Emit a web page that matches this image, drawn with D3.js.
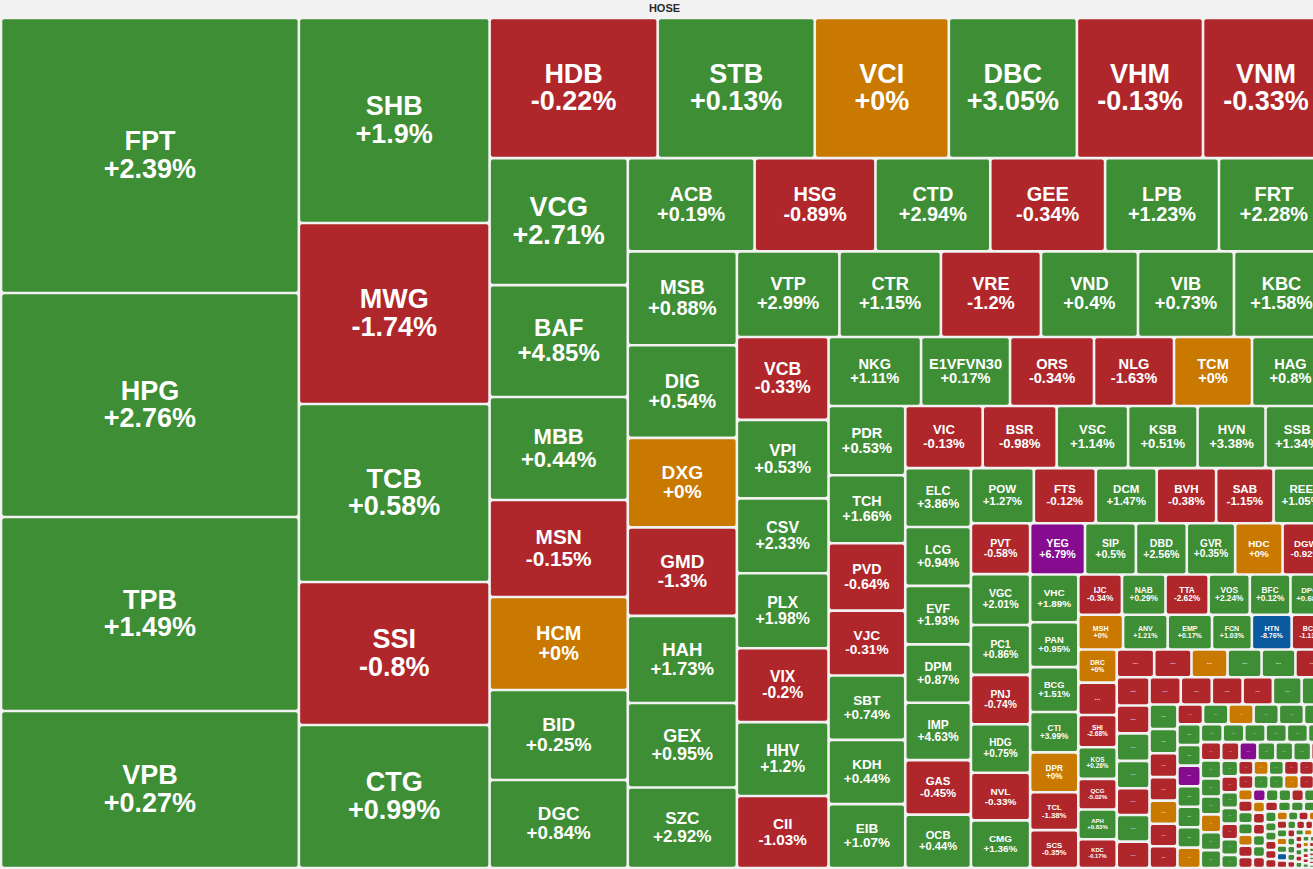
<!DOCTYPE html>
<html>
<head>
<meta charset="utf-8">
<script src="https://cdn.jsdelivr.net/npm/d3@7"></script>
<style>
html,body{margin:0;padding:0;background:#f2f2f2;overflow:hidden}
svg{display:block}
</style>
</head>
<body>
<svg id="chart" width="1313" height="869"></svg>
<script>
// ---- data (trading value ~ cell area, % change) ----
const title = "HOSE";
const tickers = ["FPT","HPG","TPB","VPB","SHB","MWG","TCB","SSI","CTG","HDB","STB","VCI","DBC","VHM","VNM","VCG","BAF","MBB","MSN","HCM","BID","DGC","ACB","HSG","CTD","GEE","LPB","FRT","MSB","DIG","DXG","GMD","HAH","GEX","SZC","VTP","CTR","VRE","VND","VIB","KBC","VCB","VPI","CSV","PLX","VIX","HHV","CII","NKG","E1VFVN30","ORS","NLG","TCM","HAG","PDR","TCH","PVD","VJC","SBT","KDH","EIB","VIC","BSR","VSC","KSB","HVN","SSB","ELC","LCG","EVF","DPM","IMP","GAS","OCB","POW","FTS","DCM","BVH","SAB","REE","PVT","VGC","PC1","PNJ","HDG","NVL","CMG","YEG","SIP","DBD","GVR","HDC","DGW","VHC","PAN","BCG","CTI","DPR","TCL","SCS","IJC","NAB","TTA","VOS","BFC","DPG","MSH","ANV","EMP","FCN","HTN","BCE","DRC","SHI","KOS","QCG","APH","KDC"];
const values = [81812,66640,57715,46708,39053,34481,33909,27250,27230,23520,21980,18760,17920,17650,17630,17526,15456,14214,13386,12834,12420,12144,11811,11253,10695,10690,10602,10250,10240,10083,9756,9647,9483,9211,8775,8764,8678,8550,8294,8208,8123,7595,7183,6863,6860,6771,6765,6588,6383,6141,5796,5520,5382,5313,5310,5202,5164,4973,4930,4920,4896,4805,4588,4433,4309,4216,3937,3865,3860,3832,3830,3766,3570,3504,3465,3410,3355,3273,3163,3053,3009,3005,2950,2920,2862,2820,2815,2805,2601,2600,2474,2423,2372,2304,2160,2158,1944,1920,1824,1822,1760,1758,1740,1660,1640,1555,1550,1545,1535,1380,1378,1294,1273,1235,1216,1178,1140,1102];
const changes = [2.39,2.76,1.49,0.27,1.9,-1.74,0.58,-0.8,0.99,-0.22,0.13,0,3.05,-0.13,-0.33,2.71,4.85,0.44,-0.15,0,0.25,0.84,0.19,-0.89,2.94,-0.34,1.23,2.28,0.88,0.54,0,-1.3,1.73,0.95,2.92,2.99,1.15,-1.2,0.4,0.73,1.58,-0.33,0.53,2.33,1.98,-0.2,1.2,-1.03,1.11,0.17,-0.34,-1.63,0,0.8,0.53,1.66,-0.64,-0.31,0.74,0.44,1.07,-0.13,-0.98,1.14,0.51,3.38,1.34,3.86,0.94,1.93,0.87,4.63,-0.45,0.44,1.27,-0.12,1.47,-0.38,-1.15,1.05,-0.58,2.01,0.86,-0.74,0.75,-0.33,1.36,6.79,0.5,2.56,0.35,0,-0.92,1.89,0.95,1.51,3.99,0,-1.38,-0.35,-0.34,0.29,-2.62,2.24,0.12,0.68,0,1.21,0.17,1.03,-8.76,-1.13,0,-2.68,0.26,-5.02,0.83,-0.17];
// small cells whose labels are hidden ("...")
const tinyValues = [1240,1040,1035,1000,945,940,932,926,912,900,895,880,870,865,850,845,840,823,783,745,680,675,665,655,645,625,605,505,500,498,496,495,494,484,482,480,479,478,477,476,390,385,380,378,376,375,372,370,368,366,365,365,364,335,333,331,330,330,330,268,267,266,266,265,265,222,221,220,219,218,217,216,215,214,213,212,211,210,168,167,166,165,164,163,162,158,157,156,155,154,153,138,137,136,136,135,134,130,129,128,127,126,125,108,107,106,105,104,103,95,94,93,92,91,90,82,81,80,79,78,77,70,69,68,67,66,65,58,57,56,55,54,53,48,47,46,45,44,43,40,39,38,37,36,35,32,31,30,29,28,27,26,25,24,23,22,21,20,19,18,17,16,15,14,13,12,11,10,9,8,8,7,7,6,6,5,5,5,4,4,4,3,3,3,3,2,2,2,2,2,1,1,1,1,1,1];
const tinyStatus = ("r"+"rroggr"+"rrggrgr"+"rrrrgg"+"ggrrorr"+"rgoggg"+"ggpgggo"+"gggggg"+"rgggogg"+"rpgggr"+"grggrg"+"grogrrg"+"rggorg"+"orggorr"+"pggrgg"+"orrggr"+"rggggg"+"ggrrro"+"grogrg"+"ogbrgr"+"rrrrgg"+"grgorg"+"rrgrgg"+"ggrogr"+"rgrgrg"+"grogrg"+"rgrgrg"+"grogrg"+"rgrgorgrgrgrgrgrgrorgrgrgrg").split("");

// ---- styling ----
const COLORS = {g:"#3e8e35", r:"#b0272b", o:"#c97800", p:"#850c8e", b:"#0a5aa0"};
const W = 1328, H = 850, OX = 1, OY = 18, PAD = 1.3;
const COL_RATIO = 1.2, ROW_RATIO = 0.875;
const FONT = "Arial, 'Liberation Sans', Helvetica, sans-serif";

function statusOf(c){ if (c >= 6.5) return "p"; if (c <= -6.5) return "b"; if (c > 0) return "g"; if (c < 0) return "r"; return "o"; }
function fmt(c){ return (c < 0 ? "" : "+") + c + "%"; }

// squarified tiling with orientation-dependent target ratio
function tile(parent, x0, y0, x1, y1) {
  const nodes = parent.children, n = nodes.length;
  let i0 = 0, i1 = 0, value = parent.value;
  while (i0 < n) {
    const dx = x1 - x0, dy = y1 - y0;
    const dice = dx < dy;
    const ratio = dice ? ROW_RATIO : COL_RATIO;
    let sumValue;
    do sumValue = nodes[i1++].value; while (!sumValue && i1 < n);
    let minValue = sumValue, maxValue = sumValue;
    const alpha = Math.max(dy / dx, dx / dy) / (value * ratio);
    let beta = sumValue * sumValue * alpha;
    let minRatio = Math.max(maxValue / beta, beta / minValue);
    for (; i1 < n; ++i1) {
      const nv = nodes[i1].value;
      sumValue += nv;
      if (nv < minValue) minValue = nv;
      if (nv > maxValue) maxValue = nv;
      beta = sumValue * sumValue * alpha;
      const newRatio = Math.max(maxValue / beta, beta / minValue);
      if (newRatio > minRatio) { sumValue -= nv; break; }
      minRatio = newRatio;
    }
    const row = {value: sumValue, children: nodes.slice(i0, i1)};
    if (dice) d3.treemapDice(row, x0, y0, x1, dy ? y0 += dy * sumValue / value : y1);
    else d3.treemapSlice(row, x0, y0, dx ? x0 += dx * sumValue / value : x1, y1);
    value -= sumValue; i0 = i1;
  }
}

const leaves = tickers.map((t, i) => ({name: t, value: values[i], change: changes[i], status: statusOf(changes[i])}))
  .concat(tinyValues.map((v, i) => ({name: null, value: v, status: tinyStatus[i] || "g"})));

const root = d3.hierarchy({children: leaves})
  .sum(d => d.children ? 0 : d.value)
  .sort((a, b) => b.value - a.value);
d3.treemap().size([W, H]).tile(tile)(root);

const svg = d3.select("#chart");
svg.append("rect").attr("width", 1313).attr("height", 869).attr("fill", "#f2f2f2");
svg.append("text").attr("x", 664.5).attr("y", 12.3).attr("text-anchor", "middle")
  .attr("font-family", FONT).attr("font-weight", "bold").attr("font-size", 11).attr("fill", "#2a2a2a").text(title);

const g = svg.append("g").attr("transform", `translate(${OX},${OY})`);
g.selectAll("g.cell").data(root.leaves()).join("g").attr("class", "cell").each(function(d) {
  const w = d.x1 - d.x0 - 2 * PAD, h = d.y1 - d.y0 - 2 * PAD;
  if (w <= 0.3 || h <= 0.3) return;
  const sel = d3.select(this);
  sel.append("rect").attr("x", d.x0 + PAD).attr("y", d.y0 + PAD).attr("width", w).attr("height", h)
    .attr("rx", Math.min(2, w / 4, h / 4)).attr("fill", COLORS[d.data.status]);
  const cx = (d.x0 + d.x1) / 2, cy = (d.y0 + d.y1) / 2;
  let fs = Math.min(27, 0.22 * Math.min(w, h));
  if (d.data.name && fs >= 5.5) {
    const t = sel.append("text").attr("text-anchor", "middle").attr("font-family", FONT)
      .attr("font-weight", "bold").attr("fill", "#fff").attr("font-size", fs);
    const a = t.append("tspan").attr("x", cx).attr("y", cy - 0.2 * fs).text(d.data.name);
    const b = t.append("tspan").attr("x", cx).attr("y", cy + 0.82 * fs).text(fmt(d.data.change));
    const maxW = Math.max(a.node().getComputedTextLength(), b.node().getComputedTextLength());
    if (maxW > w - 4) {
      fs = fs * (w - 4) / maxW;
      t.attr("font-size", fs);
      a.attr("y", cy - 0.2 * fs); b.attr("y", cy + 0.82 * fs);
    }
  } else {
    const ds = Math.min(7, 0.25 * Math.min(w, h));
    if (ds >= 2.5) {
      sel.append("text").attr("x", cx).attr("y", cy + ds * 0.12).attr("text-anchor", "middle")
        .attr("font-family", FONT).attr("font-weight", "bold").attr("font-size", ds)
        .attr("fill", "rgba(255,255,255,0.75)").text("...");
    }
  }
});
</script>
</body>
</html>
